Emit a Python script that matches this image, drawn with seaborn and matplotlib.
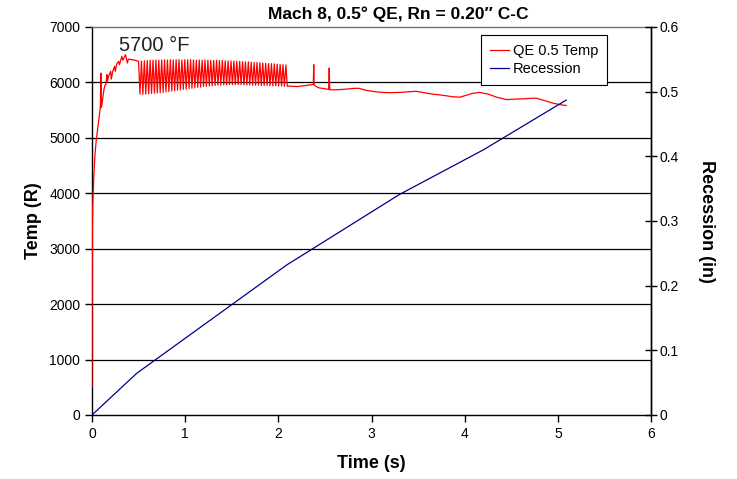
import numpy as np
import pandas as pd
import matplotlib
matplotlib.use("Agg")
import matplotlib.pyplot as plt
import seaborn as sns
from matplotlib import font_manager

# ---------------- data ----------------
title = "Mach 8, 0.5\u00b0 QE, Rn = 0.20\u2033 C-C"

pre_time = [0.0, 0.001, 0.002, 0.004, 0.008, 0.014, 0.022, 0.032, 0.045, 0.06, 0.075, 0.09,
            0.095, 0.1, 0.107, 0.118, 0.129, 0.14, 0.15, 0.16, 0.165, 0.18, 0.2, 0.207, 0.222,
            0.243, 0.25, 0.265, 0.286, 0.295, 0.32, 0.33, 0.36, 0.38, 0.39, 0.43, 0.476]
pre_temp = [500, 1500, 2500, 3300, 3800, 4050, 4400, 4700, 4950, 5150, 5350, 5560,
            6170, 5550, 5600, 5750, 5880, 5950, 5960, 6140, 6020, 6120, 6200, 6060, 6200,
            6290, 6200, 6330, 6380, 6320, 6470, 6400, 6500, 6350, 6420, 6410, 6395]

peak_time = [0.500, 0.531, 0.562, 0.593, 0.624, 0.655, 0.686, 0.717, 0.748, 0.779, 0.810,
             0.841, 0.872, 0.903, 0.934, 0.965, 0.996, 1.027, 1.058, 1.089, 1.120, 1.151,
             1.182, 1.213, 1.244, 1.275, 1.306, 1.337, 1.368, 1.399, 1.430, 1.461, 1.492,
             1.523, 1.554, 1.585, 1.616, 1.647, 1.678, 1.709, 1.740, 1.771, 1.802, 1.833,
             1.864, 1.895, 1.926, 1.957, 1.988, 2.019, 2.050, 2.081]
peak_temp = [6380, 6385, 6390, 6395, 6400, 6400, 6405, 6400, 6405, 6410, 6405, 6410, 6405,
             6410, 6410, 6405, 6410, 6405, 6410, 6405, 6400, 6405, 6400, 6405, 6400, 6400,
             6395, 6400, 6395, 6395, 6390, 6390, 6385, 6385, 6380, 6380, 6375, 6370, 6370,
             6365, 6360, 6360, 6355, 6350, 6345, 6340, 6340, 6335, 6330, 6325, 6320, 6315]
trough_time = [0.515, 0.546, 0.577, 0.608, 0.639, 0.670, 0.701, 0.732, 0.763, 0.794, 0.825,
               0.856, 0.887, 0.918, 0.949, 0.980, 1.011, 1.042, 1.073, 1.104, 1.135, 1.166,
               1.197, 1.228, 1.259, 1.290, 1.321, 1.352, 1.383, 1.414, 1.445, 1.476, 1.507,
               1.538, 1.569, 1.600, 1.631, 1.662, 1.693, 1.724, 1.755, 1.786, 1.817, 1.848,
               1.879, 1.910, 1.941, 1.972, 2.003, 2.034, 2.065, 2.096]
trough_temp = [5790, 5785, 5790, 5795, 5800, 5805, 5810, 5815, 5820, 5830, 5835, 5845, 5850,
               5860, 5865, 5875, 5880, 5890, 5895, 5905, 5910, 5915, 5925, 5930, 5935, 5940,
               5945, 5950, 5950, 5955, 5955, 5960, 5960, 5960, 5960, 5960, 5955, 5955, 5955,
               5950, 5950, 5950, 5945, 5945, 5945, 5940, 5940, 5940, 5935, 5935, 5930, 5930]

post_time = [2.11, 2.15, 2.2, 2.25, 2.3, 2.36, 2.375, 2.38, 2.385, 2.43, 2.48, 2.54, 2.546,
             2.552, 2.6, 2.7, 2.8, 2.86, 2.95, 3.05, 3.125, 3.2, 3.3, 3.4, 3.48, 3.55, 3.65,
             3.73, 3.8, 3.88, 3.95, 4.0, 4.08, 4.16, 4.25, 4.35, 4.45, 4.55, 4.65, 4.72, 4.77,
             4.82, 4.9, 4.95, 5.02, 5.09]
post_temp = [5935, 5930, 5925, 5935, 5945, 5960, 5965, 6320, 5950, 5905, 5890, 5875, 6260,
             5870, 5865, 5875, 5890, 5895, 5855, 5830, 5820, 5815, 5820, 5830, 5840, 5820, 5790,
             5776, 5760, 5740, 5734, 5760, 5800, 5820, 5790, 5730, 5690, 5700, 5705, 5715, 5715,
             5690, 5650, 5625, 5600, 5583]

rec_time = [0.0, 0.48, 2.09, 3.3, 4.2, 5.09]
rec_val = [0.0, 0.0645, 0.232, 0.341, 0.41, 0.487]

annot_text = "5700 \u00b0F"

# ---------------- assemble ----------------
osc_time, osc_temp = [], []
for pt, pv, tt, tv in zip(peak_time, peak_temp, trough_time, trough_temp):
    osc_time += [pt, tt]
    osc_temp += [pv, tv]
temp_df = pd.DataFrame({"time": pre_time + osc_time + post_time,
                        "temp": pre_temp + osc_temp + post_temp})
rec_df = pd.DataFrame({"time": rec_time, "rec": rec_val})

# ---------------- fonts ----------------
avail = {f.name for f in font_manager.fontManager.ttflist}
narrow = "Liberation Sans Narrow" if "Liberation Sans Narrow" in avail else "Liberation Sans"
plt.rcParams["font.family"] = [narrow, "DejaVu Sans"]
regular = ["Liberation Sans", "DejaVu Sans"]

# ---------------- figure ----------------
fig = plt.figure(figsize=(7.37, 4.79), dpi=100)
ax = fig.add_axes([92 / 737, 1 - 415 / 479, (651 - 92) / 737, (415 - 27) / 479])
ax2 = ax.twinx()

sns.lineplot(data=temp_df, x="time", y="temp", ax=ax, color="#FF0000", lw=0.9,
             estimator=None, sort=False, label="QE 0.5 Temp", legend=False, zorder=3)
sns.lineplot(data=rec_df, x="time", y="rec", ax=ax2, color="#00008B", lw=0.9,
             estimator=None, sort=False, label="Recession", legend=False)

ax.set_xlim(0, 6)
ax.set_ylim(0, 7000)
ax.set_xticks(range(0, 7))
ax.set_yticks(range(0, 7001, 1000))
ax2.set_ylim(0, 0.6)
ax2.set_yticks([0, 0.1, 0.2, 0.3, 0.4, 0.5, 0.6])
ax2.set_yticklabels(["0", "0.1", "0.2", "0.3", "0.4", "0.5", "0.6"], family=regular)

for y in range(1000, 7000, 1000):
    ax.axhline(y, color="black", lw=0.9, zorder=0)

ax.tick_params(axis="both", labelsize=10, length=5, width=1, color="black")
ax2.tick_params(axis="y", labelsize=10, length=8, width=1, direction="inout", pad=2)

for a in (ax, ax2):
    for s in a.spines.values():
        s.set_color("black")
        s.set_linewidth(1)
    a.spines["top"].set_color("#707070")
ax2.spines["left"].set_visible(False)
ax2.spines["bottom"].set_visible(False)
ax2.spines["top"].set_visible(False)

ax.set_xlabel("Time (s)", fontsize=13, fontweight="bold", labelpad=10)
ax.set_ylabel("Temp (R)", fontsize=13, fontweight="bold", labelpad=5)
ax2.set_ylabel("Recession (in)", fontsize=13, fontweight="bold", rotation=270, labelpad=26)

fig.text(398 / 737, 1 - 14 / 479, title, ha="center", va="center",
         fontsize=12.5, fontweight="bold")

ax.text(0.29, 6660, annot_text, fontsize=14.5, color="#222222", ha="left", va="center")

handles = [ax.lines[0], ax2.lines[0]]
leg = ax2.legend(handles=handles, labels=["QE 0.5 Temp", "Recession"],
                 loc="upper left", bbox_to_anchor=(0.696, 0.979), borderaxespad=0,
                 fancybox=False, framealpha=1, edgecolor="black", handlelength=1.3,
                 handletextpad=0.3, prop={"family": regular, "size": 10.5},
                 borderpad=0.6, labelspacing=0.3)
leg.get_frame().set_linewidth(0.8)

fig.savefig("out.png", dpi=100, facecolor="white")
